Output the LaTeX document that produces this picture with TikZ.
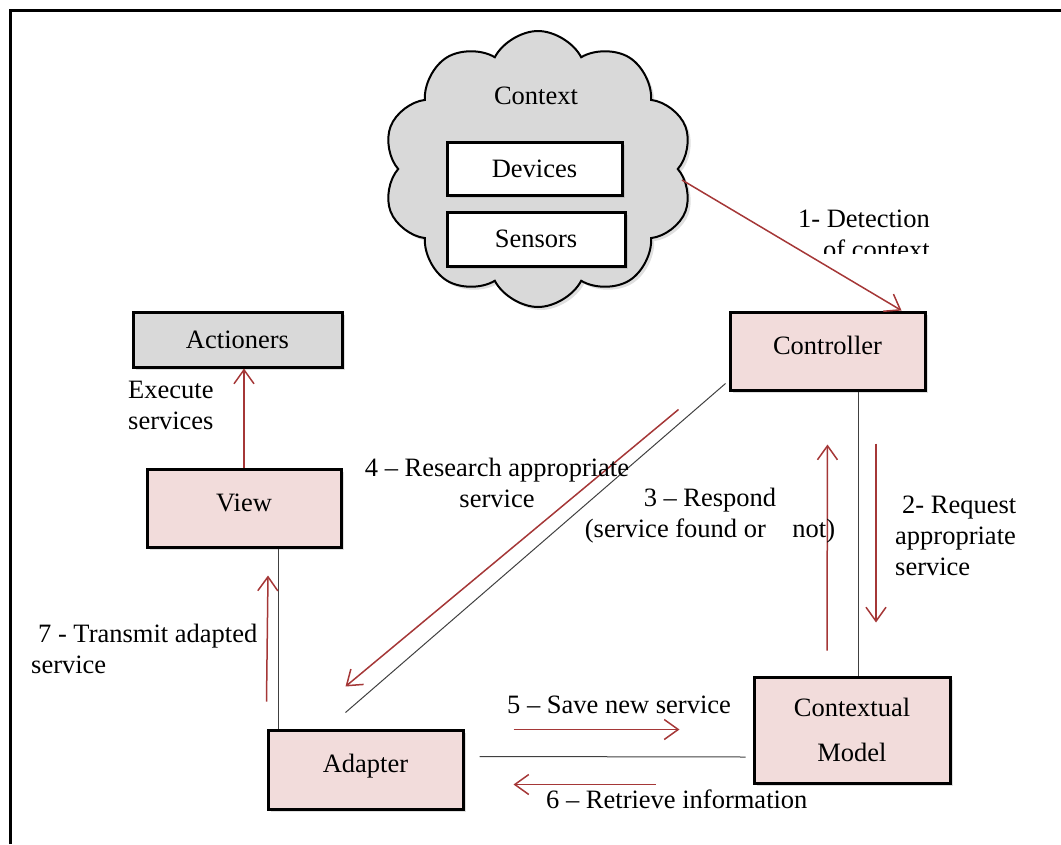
\documentclass[tikz,border=0pt]{standalone}
\usepackage{fontspec}
\setmainfont{Liberation Serif}
\usetikzlibrary{arrows.meta,shapes.symbols,shadows,calc}
\definecolor{boxpink}{RGB}{242,220,219}
\definecolor{boxgray}{RGB}{217,217,217}
\definecolor{arrred}{RGB}{165,55,55}
\begin{document}
\begin{tikzpicture}[x=1pt,y=-1pt,
  every node/.style={font=\fontsize{26.5}{31}\selectfont},
  shadowed/.style={drop shadow={shadow xshift=3pt,shadow yshift=-3pt,opacity=0.25}},
  mbox/.style={draw=black,line width=3pt,inner sep=0pt,shadowed},
  uptext/.style={text height=18pt,text depth=12pt},
  conn/.style={draw=black!75,line width=1pt},
  redarr/.style={draw=arrred,line width=1.5pt,-{Straight Barb[length=14pt,width=20pt,line width=1.5pt]}},
  lbl/.style={inner sep=0pt}]
\useasboundingbox (0,0) rectangle (1061,844);
\draw[line width=3pt] (10,844) -- (10,10) -- (1061,10);

% cloud
\node[cloud,cloud puffs=10,cloud puff arc=125,aspect=1.1,draw,line width=2pt,fill=boxgray,
      minimum width=310pt,minimum height=276pt,shadowed] (cloud) at (538,169) {};
\node[lbl] (ctxt) at (536,96) {Context};
\node[mbox,fill=white,minimum width=175pt,minimum height=53pt] (dev) at (534.5,168.5) {Devices};
\node[mbox,fill=white,minimum width=178pt,minimum height=54pt] (sen) at (536,239) {Sensors};

% boxes
\node[mbox,fill=boxpink,minimum width=195pt,minimum height=78pt,uptext] (ctrl) at (827.5,351) {Controller};
\node[mbox,fill=boxpink,minimum width=196pt,minimum height=106pt,align=center] (cm) at (852,730) {Contextual\\[14pt]Model};
\node[mbox,fill=boxpink,minimum width=195pt,minimum height=79pt,uptext] (adp) at (365.5,769.5) {Adapter};
\node[mbox,fill=boxpink,minimum width=194pt,minimum height=78pt,uptext] (view) at (244,508) {View};
\node[mbox,fill=boxgray,minimum width=209pt,minimum height=55pt] (act) at (237.5,339.5) {Actioners};

% connectors
\draw[redarr] ($(cloud.center)+(144,11)$) -- ($(ctrl.north)+(74,0)$);
\draw[conn] ($(ctrl.south west)+(-3,-8)$) -- ($(adp.north)+(-20,-16)$);
\draw[redarr] ($(ctrl.south west)+(-50,18)$) -- ($(adp.north)+(-20,-42)$);
\draw[conn] ($(ctrl.south)+(30.5,0)$) coordinate (vl) -- (vl |- cm.north);
\draw[redarr] ($(ctrl.south)+(48.5,52)$) -- ($(cm.north)+(24,-53)$);
\draw[redarr] ($(cm.north)+(-25,-25)$) -- ($(ctrl.south)+(0,53)$);
\draw[conn] ($(view.south)+(34,0)$) coordinate (vv) -- (vv |- adp.north);
\draw[redarr] ($(adp.north west)+(0,-27)$) -- ($(view.south)+(24,27)$);
\draw[redarr] (view.north) -- (view.north |- act.south);
\draw[conn] ($(adp.east)+(15,-13)$) -- ($(cm.west)+(-7,27)$);
\draw[redarr] ($(adp.north east)+(49,1)$) -- ($(cm.north west)+(-73,54)$);
\draw[redarr] ($(cm.south west)+(-97,0)$) -- ($(adp.south east)+(49,-26)$);

% labels
\begin{scope}
\clip (780,195) rectangle (960,253);
\node[lbl,align=right,anchor=east] (l1) at (930,234) {1- Detection\\of context};
\end{scope}
\node[lbl,align=left,anchor=west] (lexe) at (128,405) {Execute\\services};
\node[lbl,align=center] (l4) at (497,483) {4 – Research appropriate\\service};
\node[lbl,align=center] (l3) at (710,516) {3 – Respond\\(service found or\hspace{1em}not)};
\node[lbl,align=left,anchor=west] (l2) at (895,536) {\hspace*{7pt}2- Request\\appropriate\\service};
\node[lbl,align=left,anchor=west] (l7) at (31,649) {\hspace*{7pt}7 - Transmit adapted\\service};
\node[lbl,anchor=west] (l5) at (507,705) {5 – Save new service};
\node[lbl,anchor=west] (l6) at (546,799) {6 – Retrieve information};
\end{tikzpicture}
\end{document}
